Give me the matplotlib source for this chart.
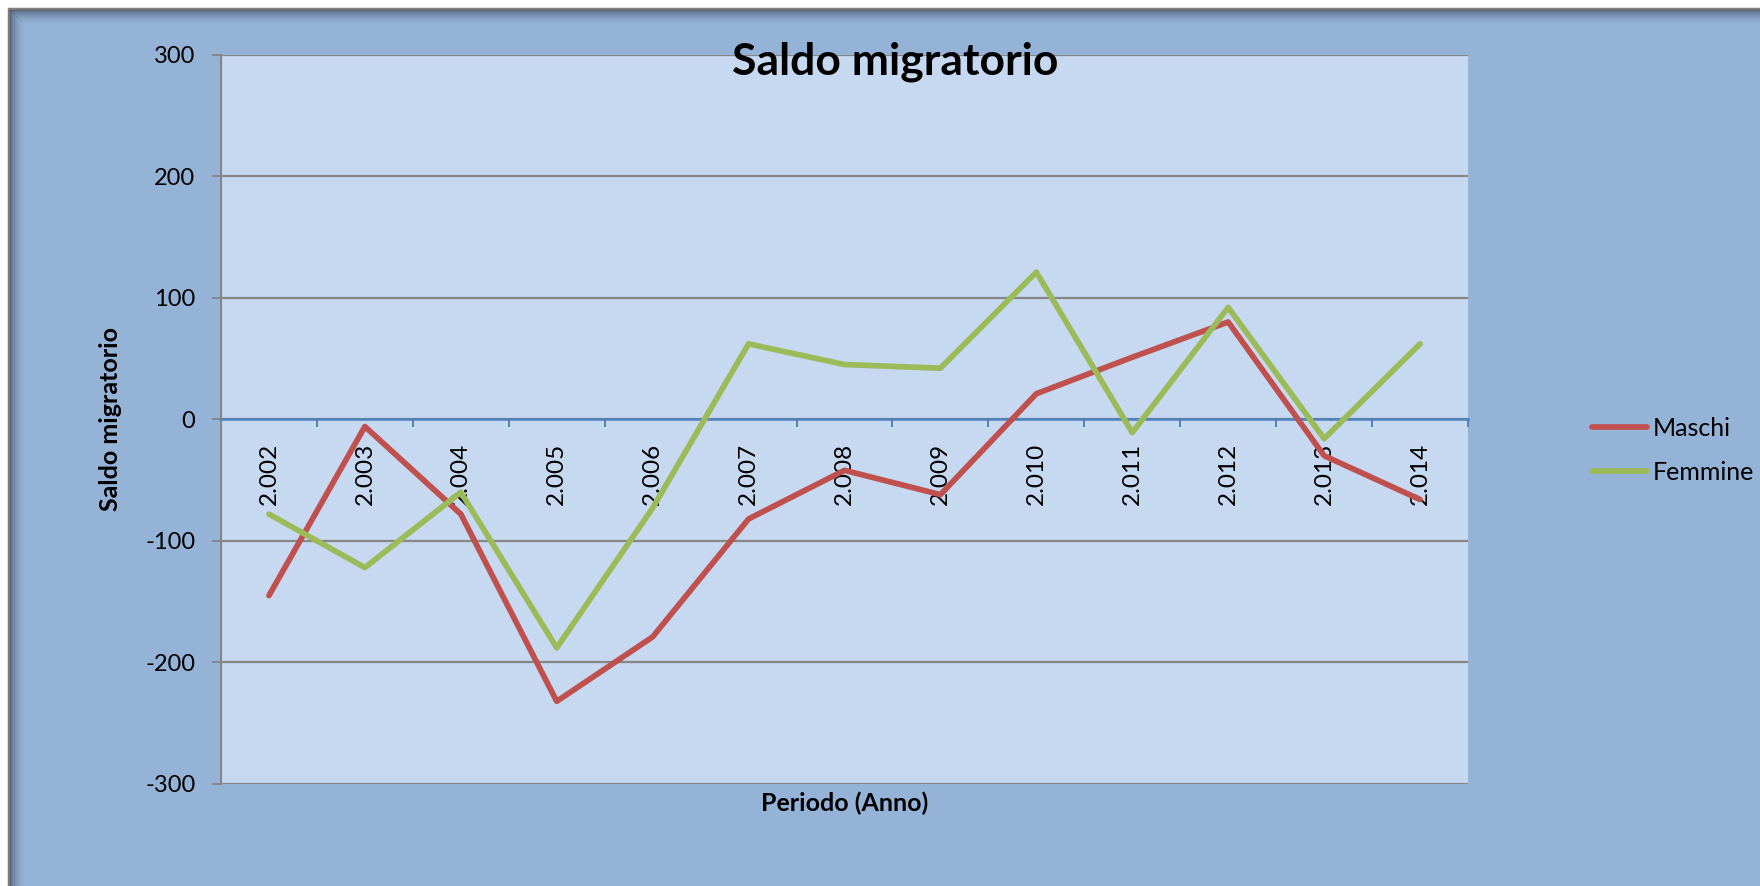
import matplotlib
matplotlib.use("Agg")
import matplotlib.pyplot as plt
from matplotlib.lines import Line2D
from matplotlib.patches import Rectangle

# ---- data ----
anni = ["2.002", "2.003", "2.004", "2.005", "2.006", "2.007", "2.008",
        "2.009", "2.010", "2.011", "2.012", "2.013", "2.014"]
maschi = [-145, -6, -78, -232, -179, -82, -42, -62, 21, 51, 80, -30, -66]
femmine = [-78, -122, -60, -188, -73, 62, 45, 42, 121, -11, 92, -16, 62]
y_ticks = [-300, -200, -100, 0, 100, 200, 300]

plt.rcParams['font.family'] = ['Lato', 'DejaVu Sans']

W, H = 1760, 886
fig = plt.figure(figsize=(W / 100, H / 100), dpi=100, facecolor='white')

# chart frame (pixel coordinates)
blue_bg = '#95B3D7'
fig.patches.append(Rectangle((9, -20), W + 40, H - 9 + 20, transform=None,
                             facecolor=blue_bg, edgecolor='#7F7F7F', lw=2.5, zorder=0))
# inner shadow
for i in range(14):
    a = 0.45 * (1 - i / 14) ** 1.6
    fig.lines.append(Line2D([10 + i, W + 10], [H - 10 - i, H - 10 - i], transform=None,
                            color='#3A4A5C', alpha=a, lw=1.0, zorder=0.5))
    fig.lines.append(Line2D([10 + i, 10 + i], [-10, H - 10 - i], transform=None,
                            color='#3A4A5C', alpha=a, lw=1.0, zorder=0.5))

left, right, top, bottom = 221, 1468, 54.5, 784
ax = fig.add_axes([left / W, 1 - bottom / H, (right - left) / W, (bottom - top) / H])
ax.set_zorder(2)
ax.set_facecolor('#C6D9F0')

x = list(range(len(anni)))
ax.plot(x, maschi, color='#C0504D', lw=4.1, label='Maschi', zorder=3,
        solid_joinstyle='round', solid_capstyle='round')
ax.plot(x, femmine, color='#9BBB59', lw=4.1, label='Femmine', zorder=3,
        solid_joinstyle='round', solid_capstyle='round')

ax.set_xlim(-0.5, len(anni) - 0.5)
ax.set_ylim(-300, 300)
ax.set_yticks(y_ticks)
ax.set_yticklabels([str(v) for v in y_ticks])
ax.yaxis.grid(True, color='#868686', lw=1.6)
ax.set_axisbelow(True)

for s in ['top', 'right']:
    ax.spines[s].set_visible(False)
ax.spines['left'].set_color('#868686')
ax.spines['left'].set_linewidth(1.6)
ax.spines['bottom'].set_position(('data', 0))
ax.spines['bottom'].set_color('#4F81BD')
ax.spines['bottom'].set_linewidth(1.8)
ax.spines['bottom'].set_zorder(2.5)

ax.tick_params(axis='y', direction='out', length=6.5, width=1.4, color='#868686',
               pad=12, labelsize=17, labelcolor='black')
ax.set_xticks([i - 0.5 for i in range(len(anni) + 1)])
ax.set_xticklabels([])
ax.tick_params(axis='x', which='major', direction='out', length=5.5, width=1.4,
               color='#4F81BD')
ax.set_xticks(x, minor=True)
ax.set_xticklabels(anni, minor=True, rotation=90, fontsize=17.5)
ax.tick_params(axis='x', which='minor', length=0, pad=17)

ax.set_ylabel('Saldo migratorio', fontsize=18, fontweight='bold')
ax.yaxis.set_label_coords(-0.0794, 0.5)
ax.set_xlabel('Periodo (Anno)', fontsize=18, fontweight='bold')
ax.xaxis.set_label_coords(0.5, -0.010)

fig.text(895 / W, 1 - 75 / H, 'Saldo migratorio', fontsize=32, fontweight='bold',
         ha='center', va='baseline', zorder=5)

ax.legend(loc='center left', bbox_to_anchor=(1592 / W, 1 - 450.5 / H),
          bbox_transform=fig.transFigure, frameon=False, fontsize=18,
          handlelength=2.2, handletextpad=0.22, labelspacing=0.85,
          borderpad=0, borderaxespad=0)

fig.savefig('out.png', dpi=100, facecolor='white')
